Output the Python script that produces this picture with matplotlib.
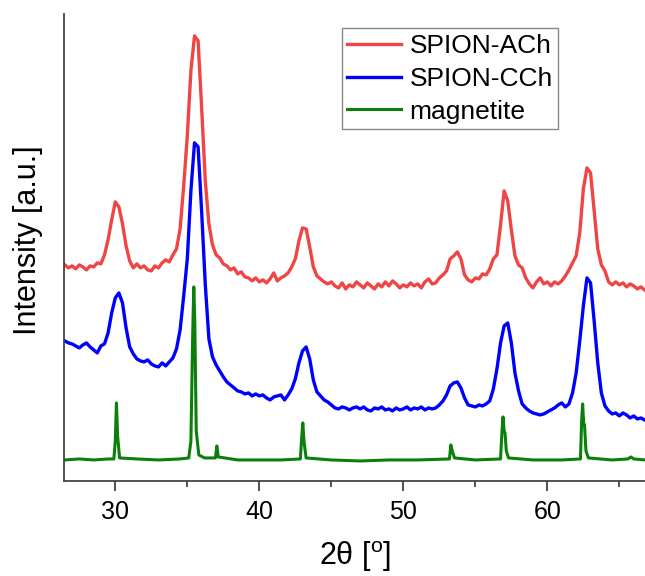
import numpy as np
import matplotlib
matplotlib.use("Agg")
import matplotlib.pyplot as plt

plt.rcParams['font.family'] = ['Liberation Sans', 'DejaVu Sans']
plt.rcParams['mathtext.fontset'] = 'custom'
plt.rcParams['mathtext.rm'] = 'Liberation Sans'

# XRD patterns, intensity in arbitrary units (curves already offset)
step = 0.25
start = 26.5

ach = [216, 213, 215, 212, 216, 214, 211, 215, 214, 218,
       217, 226, 241, 261, 279, 274, 257, 235, 220, 213,
       217, 213, 215, 211, 210, 215, 213, 218, 221, 219,
       226, 232, 252, 295, 345, 410, 445, 440, 372, 300,
       257, 236, 226, 223, 217, 215, 211, 213, 207, 209,
       204, 203, 200, 203, 199, 201, 198, 202, 208, 200,
       203, 205, 208, 214, 222, 240, 253, 252, 234, 214,
       205, 202, 199, 197, 199, 195, 193, 198, 192, 196,
       194, 199, 196, 193, 198, 195, 192, 197, 194, 199,
       195, 200, 197, 193, 196, 194, 198, 195, 197, 193,
       199, 202, 197, 198, 203, 206, 210, 222, 225, 229,
       222, 206, 201, 199, 203, 202, 207, 206, 212, 222,
       226, 256, 290, 280, 251, 225, 216, 213, 203, 197,
       193, 199, 203, 197, 199, 195, 199, 197, 200, 205,
       211, 218, 225, 248, 292, 313, 308, 270, 232, 216,
       210, 199, 196, 199, 196, 198, 194, 197, 195, 192,
       194, 191]

cch = [140, 138, 137, 135, 133, 136, 138, 134, 131, 128,
       135, 137, 148, 168, 183, 188, 178, 153, 134, 127,
       122, 120, 119, 121, 117, 115, 114, 118, 115, 119,
       123, 132, 151, 185, 222, 290, 338, 334, 268, 196,
       142, 124, 116, 110, 104, 99, 96, 93, 90, 89,
       87, 88, 85, 87, 85, 86, 83, 81, 84, 85,
       86, 81, 86, 92, 102, 118, 130, 134, 122, 101,
       89, 85, 81, 79, 76, 73, 72, 74, 73, 71,
       73, 74, 72, 74, 71, 70, 73, 72, 74, 71,
       72, 70, 73, 71, 72, 74, 71, 73, 72, 74,
       71, 73, 72, 73, 76, 80, 86, 95, 98, 99,
       93, 83, 76, 75, 74, 76, 75, 77, 80, 92,
       112, 138, 155, 158, 138, 108, 90, 77, 73, 70,
       68, 67, 66, 67, 69, 71, 73, 76, 78, 74,
       77, 88, 108, 140, 175, 203, 198, 160, 118, 88,
       75, 70, 67, 68, 65, 68, 66, 63, 65, 62,
       63, 61]

mag_x = [26.5, 27.5, 28.5, 29.5, 29.9, 30.0, 30.08, 30.16, 30.3, 31.5,
         33.0, 34.5, 35.1, 35.25, 35.38, 35.45, 35.52, 35.62, 35.8, 36.2,
         36.95, 37.05, 37.15, 38.5, 40.0, 41.5, 42.85, 42.95, 43.02, 43.1,
         43.25, 45.0, 47.0, 49.0, 51.0, 53.2, 53.3, 53.4, 53.55, 55.0,
         56.75, 56.85, 56.92, 57.0, 57.06, 57.15, 57.3, 59.0, 61.0, 62.3,
         62.38, 62.45, 62.52, 62.58, 62.68, 62.85, 64.5, 65.6, 65.8, 66.0,
         66.8]
mag = [21, 22, 21, 22, 22, 40, 78, 45, 23, 22,
       21, 22, 23, 40, 150, 194, 160, 50, 26, 23,
       23, 35, 24, 21, 21, 21, 22, 45, 58, 40,
       23, 21, 20, 21, 21, 22, 36, 30, 23, 21,
       22, 50, 64, 50, 48, 30, 23, 21, 21, 22,
       60, 77, 58, 56, 30, 23, 21, 22, 24, 22,
       21]

theta = start + step * np.arange(len(ach))

fig = plt.figure(figsize=(6.45, 5.76), dpi=100)
ax = fig.add_axes([0.0997, 0.165, 0.9003, 0.811])

ax.plot(theta, ach, color='#f04545', lw=2.4, label='SPION-ACh')
ax.plot(theta, cch, color='#0000ff', lw=2.4, label='SPION-CCh')
ax.plot(mag_x, mag, color='#0a800a', lw=2.2, label='magnetite')

ax.set_xlim(26.46, 66.78)
ax.set_ylim(0, 467)
ax.set_xticks([30, 40, 50, 60])
ax.set_xticks([35, 45, 55, 65], minor=True)
ax.set_yticks([])

for side in ['top', 'right']:
    ax.spines[side].set_visible(False)
for side in ['left', 'bottom']:
    ax.spines[side].set_color('#444444')
    ax.spines[side].set_linewidth(1.3)

ax.tick_params(axis='x', which='major', direction='out', length=7, width=1.3,
               color='#444444', labelsize=18, pad=7)
ax.tick_params(axis='x', which='minor', direction='out', length=4, width=1.3,
               color='#444444')

ax.set_xlabel(r'2θ [$^\mathregular{o}$]', fontsize=22)
ax.set_ylabel('Intensity [a.u.]', fontsize=22)
ax.xaxis.set_label_coords(0.5, -0.124)
ax.yaxis.set_label_coords(-0.036, 0.516)

leg = ax.legend(loc='upper left', bbox_to_anchor=(0.530, 0.951),
                bbox_transform=fig.transFigure, fontsize=19, frameon=True,
                fancybox=False, framealpha=1, edgecolor='#888888',
                borderaxespad=0, borderpad=0.21, labelspacing=0.34,
                handlelength=2.05, handletextpad=0.3)
leg.get_frame().set_linewidth(1.0)

fig.savefig('out.png', dpi=100)
